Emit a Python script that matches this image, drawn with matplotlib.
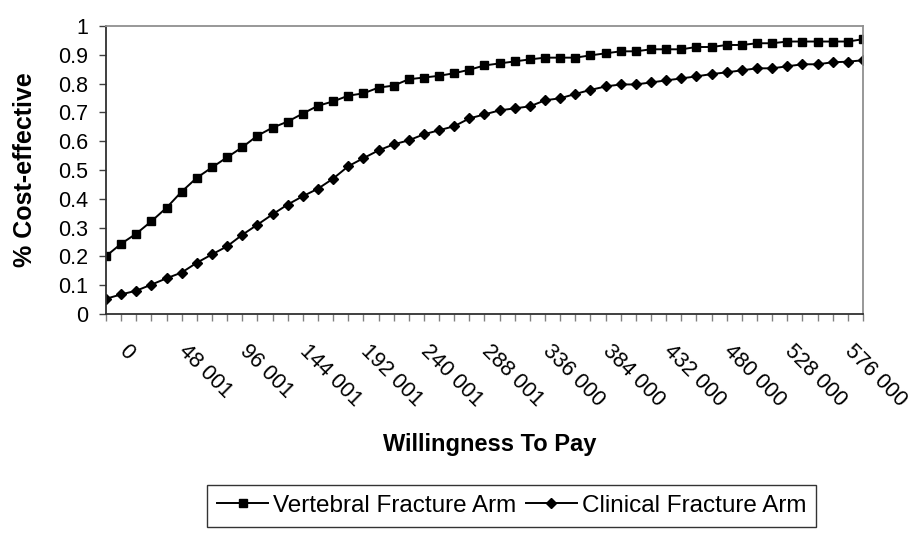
import numpy as np
import matplotlib.pyplot as plt
import matplotlib.transforms as mtransforms

plt.rcParams['font.family'] = ['Liberation Sans', 'DejaVu Sans']

# willingness-to-pay categories (51 points, a label every 4th)
tick_labels = ["0", "48 001", "96 001", "144 001", "192 001", "240 001", "288 001",
               "336 000", "384 000", "432 000", "480 000", "528 000", "576 000"]
n_points = 51

vertebral = [0.201, 0.244, 0.279, 0.322, 0.369, 0.425, 0.473, 0.509, 0.544, 0.579,
             0.619, 0.647, 0.668, 0.696, 0.723, 0.738, 0.758, 0.766, 0.786, 0.793,
             0.815, 0.821, 0.827, 0.836, 0.848, 0.863, 0.870, 0.877, 0.884, 0.890,
             0.890, 0.890, 0.898, 0.905, 0.912, 0.912, 0.919, 0.919, 0.919, 0.927,
             0.927, 0.934, 0.934, 0.940, 0.940, 0.946, 0.946, 0.946, 0.946, 0.946,
             0.954]
clinical = [0.053, 0.068, 0.081, 0.102, 0.124, 0.144, 0.178, 0.207, 0.235, 0.275,
            0.310, 0.346, 0.380, 0.409, 0.435, 0.470, 0.513, 0.541, 0.568, 0.589,
            0.603, 0.624, 0.638, 0.652, 0.679, 0.693, 0.707, 0.714, 0.721, 0.742,
            0.749, 0.764, 0.778, 0.790, 0.797, 0.797, 0.804, 0.811, 0.818, 0.825,
            0.833, 0.839, 0.846, 0.853, 0.853, 0.860, 0.867, 0.867, 0.874, 0.876,
            0.881]

x = np.arange(n_points)
label_pos = np.arange(0, n_points, 4)

fig = plt.figure(figsize=(9.17, 5.4), dpi=100)
ax = fig.add_axes([0.1156, 0.4185, 0.8255, 0.5334])

ax.plot(x, vertebral, color='black', lw=1.4, marker='s', ms=5.8,
        label='Vertebral Fracture Arm')
ax.plot(x, clinical, color='black', lw=1.4, marker='D', ms=5.0,
        label='Clinical Fracture Arm')

ax.set_xlim(0, n_points - 1)
ax.set_ylim(0, 1)
ax.set_yticks(np.arange(0, 1.01, 0.1))
ax.set_yticklabels(["0"] + [f"{v:.1f}" for v in np.arange(0.1, 0.95, 0.1)] + ["1"])

# ticks at every point, rotated labels every 4th (shifted like Excel does)
ax.set_xticks(x)
ax.set_xticklabels([])
shift = ax.get_xaxis_transform() + mtransforms.ScaledTranslation(
    0.23, -0.27, fig.dpi_scale_trans)
for pos, txt in zip(label_pos, tick_labels):
    ax.text(pos, 0, txt, transform=shift, rotation=-45, rotation_mode='anchor',
            ha='left', va='top', fontsize=15.5, clip_on=False)

ax.tick_params(axis='x', direction='out', length=5, width=1, color='#808080')
ax.tick_params(axis='y', direction='out', length=5, width=1, color='#404040',
               labelsize=15.5, pad=8)

for side in ['top', 'right']:
    ax.spines[side].set_color('#909090')
    ax.spines[side].set_linewidth(1.3)
ax.spines['left'].set_color('#303030')
ax.spines['bottom'].set_color('#303030')
ax.spines['left'].set_linewidth(1.3)
ax.spines['bottom'].set_linewidth(1.3)

fig.text(0.027, 0.685, '% Cost-effective', fontsize=18, fontweight='bold',
         rotation=90, ha='center', va='center')
fig.text(0.534, 0.176, 'Willingness To Pay', fontsize=17, fontweight='bold',
         ha='center', va='center')

leg = fig.legend(loc='center', bbox_to_anchor=(0.558, 0.063), ncol=2,
                 frameon=True, fancybox=False, fontsize=17.5, handlelength=2.1,
                 handletextpad=0.2, columnspacing=0.4, borderpad=0.4)
leg.get_frame().set_edgecolor('black')
leg.get_frame().set_linewidth(1.0)

fig.savefig('out.png', dpi=100)
